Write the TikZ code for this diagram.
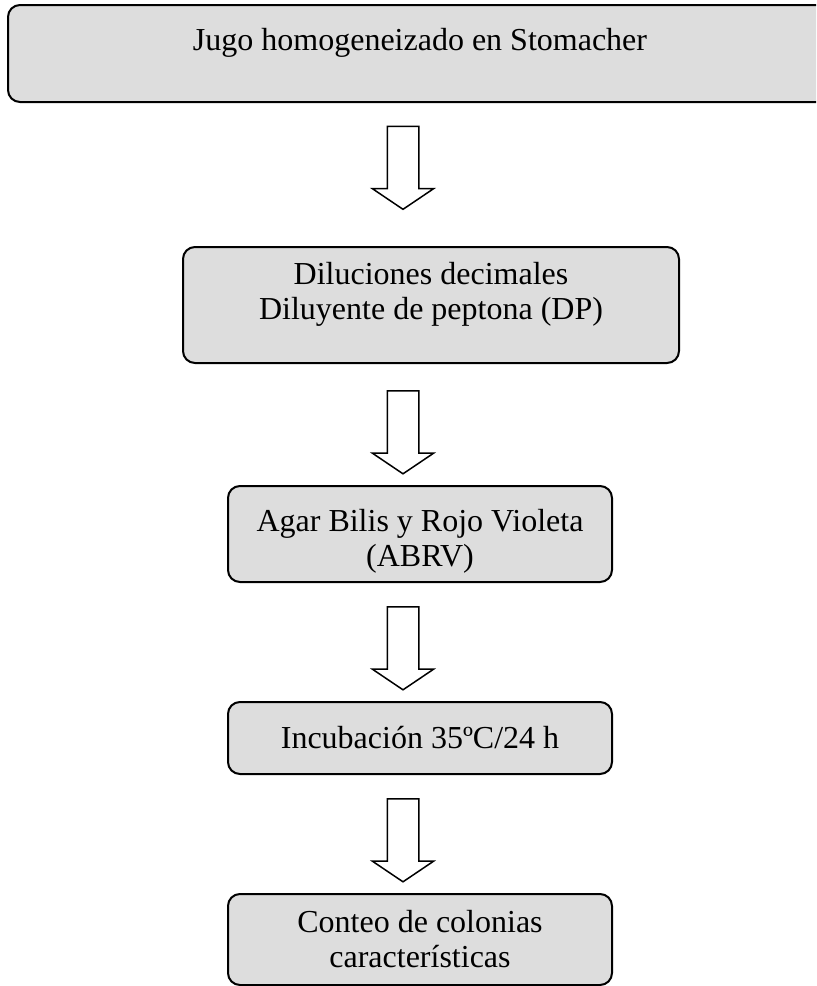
\documentclass[tikz,border=0pt]{standalone}
\usepackage{fontspec}
\setmainfont{Liberation Serif}
\usetikzlibrary{shapes.arrows}
\definecolor{boxgray}{HTML}{DDDDDD}

\begin{document}
\begin{tikzpicture}[x=0.5pt,y=-0.5pt,
  every node/.style={font=\fontsize{16}{17.5}\selectfont},
  stepbox/.style={draw,line width=1pt,fill=boxgray,rounded corners=6pt,
    align=center,inner sep=0pt},
  downarrow/.style={draw,line width=0.75pt,single arrow,shape border rotate=270,
    minimum width=30pt,minimum height=41.5pt,single arrow head extend=7.5pt,
    single arrow tip angle=112,inner sep=7.5pt}]
  \clip (0,0) rectangle (816,986);
  \node[stepbox,minimum width=412pt,minimum height=48.5pt,text depth=14pt]
    (jugo) at (420,53.5) {Jugo homogeneizado en Stomacher};
  \node[stepbox,minimum width=248pt,minimum height=58pt,text depth=14.5pt]
    (diluciones) at (431,305) {Diluciones decimales\\Diluyente de peptona (DP)};
  \node[stepbox,minimum width=192pt,minimum height=48pt,text height=36pt]
    (agar) at (420,534) {Agar Bilis y Rojo Violeta\\(ABRV)};
  \node[stepbox,minimum width=192pt,minimum height=36pt]
    (incubacion) at (420,738) {Incubación 35ºC/24 h};
  \node[stepbox,minimum width=192pt,minimum height=45.5pt]
    (conteo) at (420,939.5) {Conteo de colonias\\características};
  \node[downarrow] (arr1) at (403,162.5) {};
  \node[downarrow] (arr2) at (403,427) {};
  \node[downarrow] (arr3) at (403,643) {};
  \node[downarrow] (arr4) at (403,835) {};
\end{tikzpicture}
\end{document}
